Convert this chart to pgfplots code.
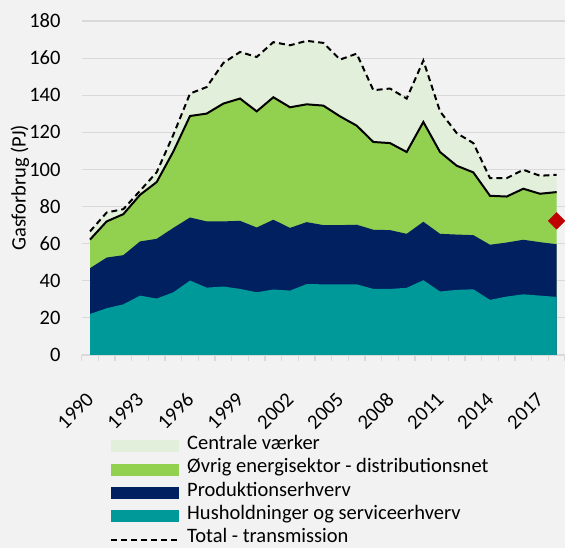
\documentclass[border=0pt]{standalone}
\usepackage{fontspec}
\setmainfont{Carlito}
\usepackage{pgfplots}
\pgfplotsset{compat=1.18}
\usepackage{pgfplotstable}
\definecolor{bg}{HTML}{F2F2F2}
\definecolor{gridc}{HTML}{D9D9D9}
\definecolor{cv}{HTML}{E2EFDA}
\definecolor{ov}{HTML}{92D050}
\definecolor{pr}{HTML}{002060}
\definecolor{hh}{HTML}{009999}
\definecolor{rd}{HTML}{C00000}
\newcommand{\cf}{\fontsize{20.5pt}{24pt}\selectfont}
\pgfplotstableread{
year hh prod ovr tot
1990 22.1 46.8 62.2 66.6
1991 25.2 52.5 72.0 76.8
1992 27.3 53.8 75.9 78.6
1993 32.0 61.2 86.3 88.5
1994 30.4 62.6 93.2 98.5
1995 33.8 68.5 109.7 118.7
1996 40.1 74.1 128.8 140.9
1997 36.3 72.0 130.1 144.4
1998 36.9 72.0 135.5 157.4
1999 35.6 72.3 138.2 163.3
2000 33.8 68.7 131.3 160.6
2001 35.3 72.9 138.9 168.6
2002 34.7 68.5 133.5 166.9
2003 38.2 71.6 135.1 169.3
2004 38.1 70.0 134.4 168.2
2005 38.1 70.0 128.6 159.2
2006 38.1 70.2 123.6 162.4
2007 35.6 67.5 114.8 142.7
2008 35.6 67.3 114.2 143.6
2009 36.2 65.3 109.4 138.2
2010 40.3 71.8 125.6 158.7
2011 34.2 65.3 109.4 131.3
2012 35.1 64.9 102.0 119.6
2013 35.4 64.6 98.4 114.2
2014 29.7 59.4 85.8 95.3
2015 31.5 60.6 85.4 95.3
2016 32.7 62.1 89.6 99.8
2017 32.0 60.8 86.9 96.6
2018 31.3 59.7 87.8 97.1
}\data
\begin{document}
\begin{tikzpicture}
\fill[bg] (-81.7pt,-193pt) rectangle (483.3pt,355pt);
\begin{axis}[
  at={(0pt,0pt)}, anchor=south west,
  scale only axis, width=483.3pt, height=334pt,
  xmin=1989.5, xmax=2018.5, ymin=0, ymax=180,
  clip=false,
  axis line style={draw=none},
  ytick={0,20,...,180},
  ymajorgrids, grid style={draw=gridc, line width=1.2pt},
  tick style={draw=gridc, line width=1.2pt},
  major tick length=0pt,
  ytick pos=left, xtick pos=bottom,
  xtick={1990,1993,...,2017},
  extra x ticks={1989.5,1990.5,...,2018.5},
  extra x tick style={xticklabel=\empty, major tick length=6pt, tick align=outside, xmajorgrids=false},
  /pgf/number format/assume math mode=true,
  /pgf/number format/1000 sep={},
  yticklabel style={font=\cf, inner sep=0pt, anchor=east, xshift=-21pt},
  xticklabel style={font=\cf, inner sep=0pt, xshift=-4.8pt, yshift=-36pt, rotate=45, anchor=north east},
  ylabel={Gasforbrug (PJ)},
  ylabel style={font=\cf, at={(axis description cs:-0.1277,0.5)}, anchor=center},
  legend style={at={(0.0586,-0.238)}, anchor=north west, draw=none, fill=none,
     font=\cf, row sep=0pt, column sep=7pt, inner sep=0pt,
     nodes={inner sep=0pt, text height=15pt, text depth=8.3pt}},
  legend cell align=left,
]
\addplot[fill=cv, draw=none, legend image code/.code={\fill[cv] (0pt,-6pt) rectangle (68pt,6pt);}] table[x=year,y=tot]{\data} \closedcycle;
\addlegendentry{Centrale værker}
\addplot[fill=ov, draw=none, legend image code/.code={\fill[ov] (0pt,-6pt) rectangle (68pt,6pt);}] table[x=year,y=ovr]{\data} \closedcycle;
\addlegendentry{Øvrig energisektor - distributionsnet}
\addplot[fill=pr, draw=none, legend image code/.code={\fill[pr] (0pt,-6pt) rectangle (68pt,6pt);}] table[x=year,y=prod]{\data} \closedcycle;
\addlegendentry{Produktionserhverv}
\addplot[fill=hh, draw=none, legend image code/.code={\fill[hh] (0pt,-6pt) rectangle (68pt,6pt);}] table[x=year,y=hh]{\data} \closedcycle;
\addlegendentry{Husholdninger og serviceerhverv}
\addplot[black, line width=2pt, forget plot] table[x=year,y=ovr]{\data};
\addplot[black, line width=2pt, dash pattern=on 6pt off 4pt, legend image code/.code={\draw[black, line width=2pt, dash pattern=on 6pt off 4pt] (0pt,0pt) -- (68pt,0pt);}] table[x=year,y=tot]{\data};
\addlegendentry{Total - transmission}
\addplot[only marks, mark=square*, mark size=5.9pt, mark options={rotate=45, fill=rd, draw=rd}, forget plot] coordinates {(2018,72.3)};
\end{axis}
\pgfresetboundingbox
\useasboundingbox (-81.7pt,-193pt) rectangle (483.3pt,355pt);
\end{tikzpicture}
\end{document}
